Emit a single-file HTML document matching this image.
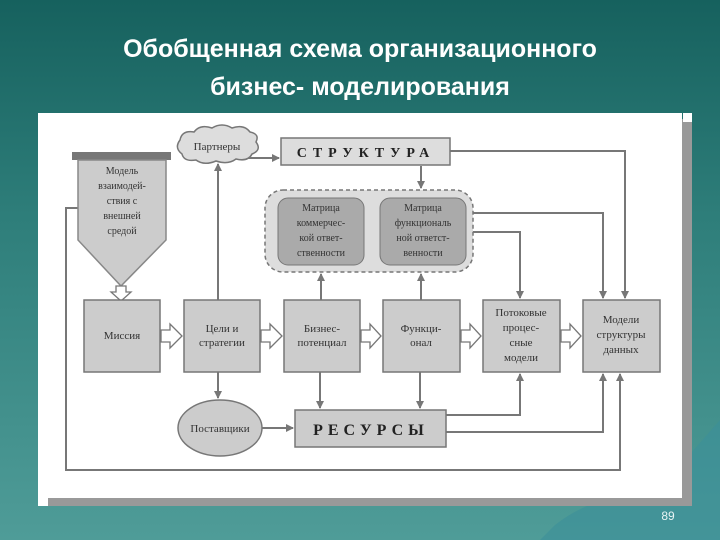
<!DOCTYPE html>
<html><head><meta charset="utf-8"><style>
body{margin:0;width:720px;height:540px;overflow:hidden;background:linear-gradient(180deg,#16615e 0%,#2e7e7a 40%,#4f9c98 100%);font-family:"Liberation Sans",sans-serif;position:relative}
.t{position:absolute;left:0;width:720px;text-align:center;color:#fff;font-weight:bold;font-size:25px;line-height:38px;top:30px}
svg{position:absolute;left:0;top:0}
</style></head><body>
<div class="t">Обобщенная схема организационного<br>бизнес- моделирования</div>
<svg width="720" height="540" font-family="Liberation Serif, serif">
<defs><marker id="a" markerWidth="8" markerHeight="8" refX="7" refY="4" orient="auto" markerUnits="userSpaceOnUse"><path d="M0,0L8,4L0,8z" fill="#777"/></marker></defs>
<path d="M555,525 Q600,490 650,500 L720,420 L720,540 L540,540z" fill="#3c8f9a" opacity="0.6"/>
<rect x="44" y="119" width="648" height="387" fill="#999"/>
<rect x="38" y="113" width="644" height="385" fill="#fff"/>
<rect x="683" y="113" width="9" height="9" fill="#fff"/>
<rect x="38" y="497" width="10" height="9" fill="#fff"/>
<g stroke="#777" stroke-width="2" fill="none">
<path d="M78,208H66V470H620V374" marker-end="url(#a)"/>
<path d="M218,300V164" marker-end="url(#a)"/>
<path d="M238,158V158H279" marker-end="url(#a)"/>
<path d="M421,166V188" marker-end="url(#a)"/>
<path d="M450,151H625V298" marker-end="url(#a)"/>
<path d="M473,213H603V298" marker-end="url(#a)"/>
<path d="M466,232H520V298" marker-end="url(#a)"/>
<path d="M321,300V274" marker-end="url(#a)"/>
<path d="M421,300V274" marker-end="url(#a)"/>
<path d="M218,372V398" marker-end="url(#a)"/>
<path d="M320,372V408" marker-end="url(#a)"/>
<path d="M420,372V408" marker-end="url(#a)"/>
<path d="M262,428H293" marker-end="url(#a)"/>
<path d="M446,415H520V374" marker-end="url(#a)"/>
<path d="M446,432H603V374" marker-end="url(#a)"/>
</g>
<path d="M180,140 q2,-10 14,-8 q6,-8 18,-4 q10,-6 20,0 q12,-4 18,4 q10,2 6,10 q6,8 -4,12 q-4,8 -16,5 q-8,6 -20,2 q-12,5 -20,-1 q-12,2 -14,-6 q-8,-6 -2,-14z" fill="#ddd" stroke="#777" stroke-width="1.5"/>
<text x="217" y="150" font-size="11" text-anchor="middle" fill="#333">Партнеры</text>
<rect x="281" y="138" width="169" height="27" fill="#ddd" stroke="#777" stroke-width="1.5"/>
<text x="366" y="157" font-size="14" font-weight="bold" text-anchor="middle" letter-spacing="6" fill="#222">СТРУКТУРА</text>
<rect x="72" y="152" width="99" height="8" fill="#777"/>
<path d="M78,160H166V240L121,286L78,240z" fill="#ccc" stroke="#888" stroke-width="1.5"/>
<g font-size="10" text-anchor="middle" fill="#333"><text x="122" y="174">Модель</text><text x="122" y="189">взаимодей-</text><text x="122" y="204">ствия с</text><text x="122" y="219">внешней</text><text x="122" y="234">средой</text></g>
<path d="M116,286V292H111L121,301L131,292H126V286z" fill="#fff" stroke="#777" stroke-width="1.3"/>
<rect x="265" y="190" width="208" height="82" rx="18" fill="#ddd" stroke="#777" stroke-width="1.5" stroke-dasharray="4,3"/>
<rect x="278" y="198" width="86" height="67" rx="10" fill="#aaa" stroke="#777"/>
<rect x="380" y="198" width="86" height="67" rx="10" fill="#aaa" stroke="#777"/>
<g font-size="10" text-anchor="middle" fill="#333"><text x="321" y="211">Матрица</text><text x="321" y="226">коммерчес-</text><text x="321" y="241">кой ответ-</text><text x="321" y="256">ственности</text>
<text x="423" y="211">Матрица</text><text x="423" y="226">функциональ</text><text x="423" y="241">ной ответст-</text><text x="423" y="256">венности</text></g>
<g fill="#ccc" stroke="#777" stroke-width="1.5"><rect x="84" y="300" width="76" height="72"/><rect x="184" y="300" width="76" height="72"/><rect x="284" y="300" width="76" height="72"/><rect x="383" y="300" width="77" height="72"/><rect x="483" y="300" width="77" height="72"/><rect x="583" y="300" width="77" height="72"/>
<rect x="295" y="410" width="151" height="37"/><ellipse cx="220" cy="428" rx="42" ry="28"/></g>
<g fill="#fff" stroke="#777" stroke-width="1.3"><path d="M161,330H170V324L182,336L170,348V342H161z"/><path d="M261,330H270V324L282,336L270,348V342H261z"/><path d="M361,330H370V324L381,336L370,348V342H361z"/><path d="M461,330H470V324L481,336L470,348V342H461z"/><path d="M561,330H570V324L581,336L570,348V342H561z"/></g>
<g font-size="11" text-anchor="middle" fill="#333"><text x="122" y="339">Миссия</text><text x="222" y="332">Цели и</text><text x="222" y="346">стратегии</text>
<text x="322" y="332">Бизнес-</text><text x="322" y="346">потенциал</text><text x="421" y="332">Функци-</text><text x="421" y="346">онал</text>
<text x="521" y="316">Потоковые</text><text x="521" y="331">процес-</text><text x="521" y="346">сные</text><text x="521" y="361">модели</text>
<text x="621" y="323">Модели</text><text x="621" y="338">структуры</text><text x="621" y="353">данных</text>
<text x="220" y="432">Поставщики</text></g>
<text x="371" y="435" font-size="16" font-weight="bold" text-anchor="middle" letter-spacing="5" fill="#222">РЕСУРСЫ</text>
<text x="668" y="520" font-size="12" font-family="Liberation Sans" fill="#e8f4f4" text-anchor="middle">89</text>
</svg>
</body></html>
